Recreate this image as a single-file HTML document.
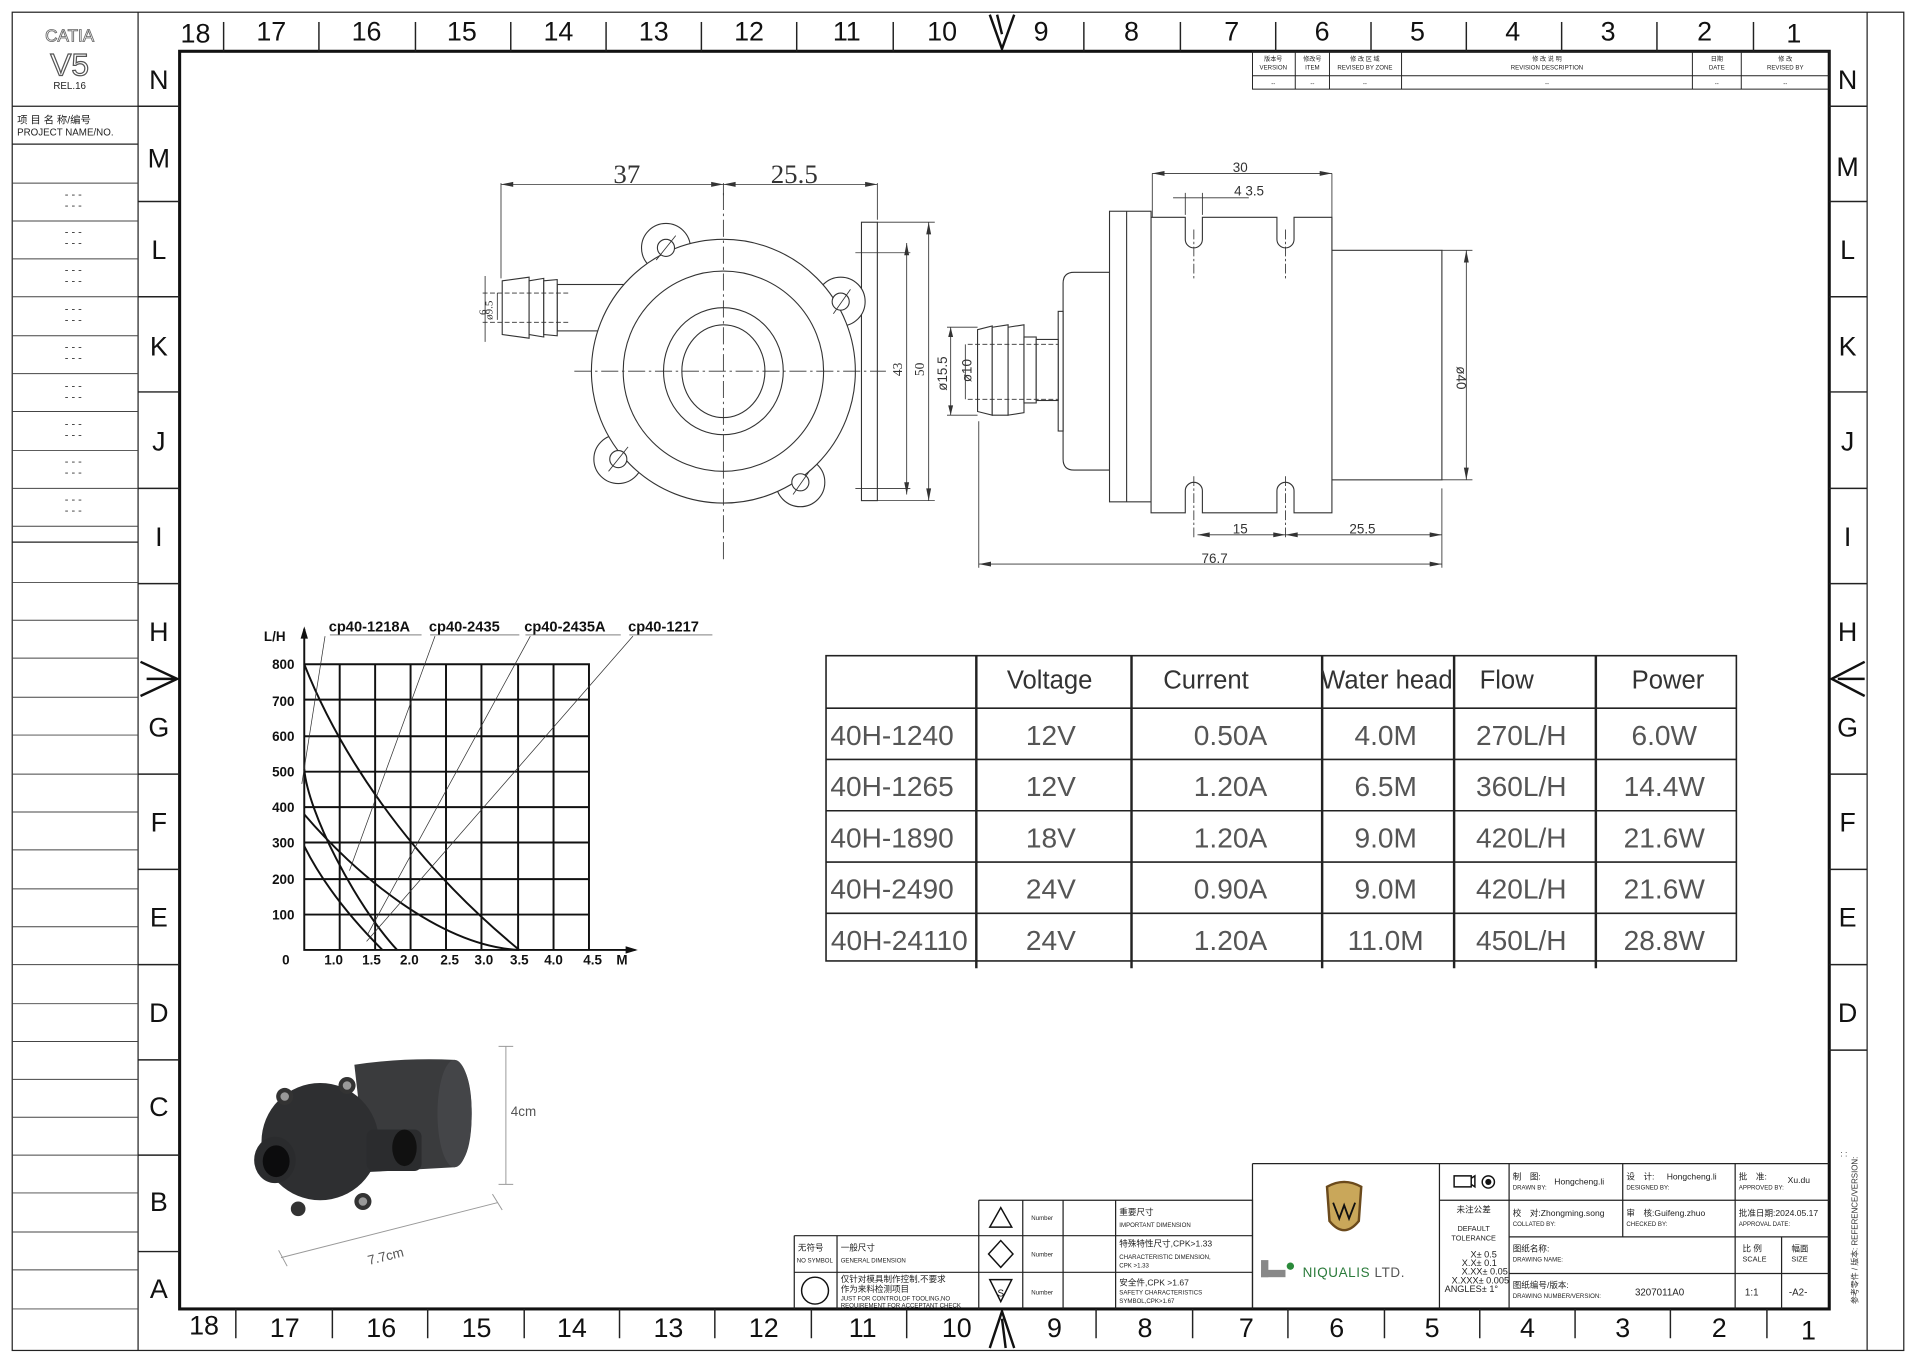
<!DOCTYPE html>
<html><head><meta charset="utf-8"><style>
html,body{margin:0;padding:0;background:#fff;overflow:hidden}
svg{display:block}
text{font-family:"Liberation Sans","Noto Sans CJK SC",sans-serif}
.z{font-size:22px;text-anchor:middle;fill:#111}
.s{font-size:5px;fill:#222}
.t{font-size:7px;fill:#222}
.d{font-family:"Liberation Serif",serif;fill:#333}
</style></head><body>
<svg width="1916" height="1359" viewBox="0 0 1568 1113" preserveAspectRatio="none" xmlns="http://www.w3.org/2000/svg">
<rect width="1568" height="1113" fill="#fff"/>
<g fill="none" stroke="#222" stroke-width="1">
<rect x="10" y="10" width="1548" height="1096"/>
<line x1="113" y1="10" x2="113" y2="1106"/>
<line x1="1528" y1="10" x2="1528" y2="1106"/>
<line x1="10" y1="87" x2="113" y2="87"/>
<line x1="10" y1="118" x2="113" y2="118"/>
<line x1="10" y1="444" x2="113" y2="444"/>
</g>
<rect x="147" y="42" width="1350" height="1030" fill="none" stroke="#111" stroke-width="2.5"/>
<g stroke="#444" stroke-width="0.8">
<line x1="10" y1="150" x2="113" y2="150"/><line x1="10" y1="181" x2="113" y2="181"/><line x1="10" y1="212" x2="113" y2="212"/><line x1="10" y1="243" x2="113" y2="243"/><line x1="10" y1="275" x2="113" y2="275"/><line x1="10" y1="306" x2="113" y2="306"/><line x1="10" y1="337" x2="113" y2="337"/><line x1="10" y1="369" x2="113" y2="369"/><line x1="10" y1="400" x2="113" y2="400"/><line x1="10" y1="431" x2="113" y2="431"/><line x1="10" y1="477" x2="113" y2="477"/><line x1="10" y1="508" x2="113" y2="508"/><line x1="10" y1="539" x2="113" y2="539"/><line x1="10" y1="571" x2="113" y2="571"/><line x1="10" y1="602" x2="113" y2="602"/><line x1="10" y1="634" x2="113" y2="634"/><line x1="10" y1="665" x2="113" y2="665"/><line x1="10" y1="696" x2="113" y2="696"/><line x1="10" y1="728" x2="113" y2="728"/><line x1="10" y1="759" x2="113" y2="759"/><line x1="10" y1="790" x2="113" y2="790"/><line x1="10" y1="822" x2="113" y2="822"/><line x1="10" y1="853" x2="113" y2="853"/><line x1="10" y1="884" x2="113" y2="884"/><line x1="10" y1="915" x2="113" y2="915"/><line x1="10" y1="946" x2="113" y2="946"/><line x1="10" y1="977" x2="113" y2="977"/><line x1="10" y1="1009" x2="113" y2="1009"/><line x1="10" y1="1040" x2="113" y2="1040"/><line x1="10" y1="1072" x2="113" y2="1072"/>
</g>
<text x="57" y="34" font-size="14" text-anchor="middle" fill="#fff" stroke="#666" stroke-width="0.7">CATIA</text>
<text x="57" y="62" font-size="26" text-anchor="middle" fill="#fff" stroke="#555" stroke-width="1">V5</text>
<text x="57" y="73" font-size="8" text-anchor="middle" fill="#222">REL.16</text>
<text x="14" y="101" font-size="8.5" fill="#222">项 目 名 称/编号</text>
<text x="14" y="111" font-size="8" fill="#222" font-family="Liberation Mono">PROJECT NAME/NO.</text>
<g font-size="9" text-anchor="middle" fill="#333">
<text x="60" y="162">- - -</text><text x="60" y="171">- - -</text>
<text x="60" y="193">- - -</text><text x="60" y="202">- - -</text>
<text x="60" y="224">- - -</text><text x="60" y="233">- - -</text>
<text x="60" y="256">- - -</text><text x="60" y="265">- - -</text>
<text x="60" y="287">- - -</text><text x="60" y="296">- - -</text>
<text x="60" y="319">- - -</text><text x="60" y="328">- - -</text>
<text x="60" y="350">- - -</text><text x="60" y="359">- - -</text>
<text x="60" y="381">- - -</text><text x="60" y="390">- - -</text>
<text x="60" y="412">- - -</text><text x="60" y="421">- - -</text>
</g>
<g class="z">
<text x="130" y="73" class="z">N</text><text x="130" y="137" class="z">M</text><text x="130" y="212" class="z">L</text><text x="130" y="291" class="z">K</text><text x="130" y="369" class="z">J</text><text x="130" y="447" class="z">I</text><text x="130" y="525" class="z">H</text><text x="130" y="603" class="z">G</text><text x="130" y="681" class="z">F</text><text x="130" y="759" class="z">E</text><text x="130" y="837" class="z">D</text><text x="130" y="914" class="z">C</text><text x="130" y="992" class="z">B</text><text x="130" y="1063" class="z">A</text>
<text x="1512" y="73" class="z">N</text><text x="1512" y="144" class="z">M</text><text x="1512" y="212" class="z">L</text><text x="1512" y="291" class="z">K</text><text x="1512" y="369" class="z">J</text><text x="1512" y="447" class="z">I</text><text x="1512" y="525" class="z">H</text><text x="1512" y="603" class="z">G</text><text x="1512" y="681" class="z">F</text><text x="1512" y="759" class="z">E</text><text x="1512" y="837" class="z">D</text>
<text x="160" y="35" class="z">18</text><text x="222" y="33" class="z">17</text><text x="300" y="33" class="z">16</text><text x="378" y="33" class="z">15</text><text x="457" y="33" class="z">14</text><text x="535" y="33" class="z">13</text><text x="613" y="33" class="z">12</text><text x="693" y="33" class="z">11</text><text x="771" y="33" class="z">10</text><text x="852" y="33" class="z">9</text><text x="926" y="33" class="z">8</text><text x="1008" y="33" class="z">7</text><text x="1082" y="33" class="z">6</text><text x="1160" y="33" class="z">5</text><text x="1238" y="33" class="z">4</text><text x="1316" y="33" class="z">3</text><text x="1395" y="33" class="z">2</text><text x="1468" y="35" class="z">1</text>
<text x="167" y="1093" class="z">18</text><text x="233" y="1095" class="z">17</text><text x="312" y="1095" class="z">16</text><text x="390" y="1095" class="z">15</text><text x="468" y="1095" class="z">14</text><text x="547" y="1095" class="z">13</text><text x="625" y="1095" class="z">12</text><text x="706" y="1095" class="z">11</text><text x="783" y="1095" class="z">10</text><text x="863" y="1095" class="z">9</text><text x="937" y="1095" class="z">8</text><text x="1020" y="1095" class="z">7</text><text x="1094" y="1095" class="z">6</text><text x="1172" y="1095" class="z">5</text><text x="1250" y="1095" class="z">4</text><text x="1328" y="1095" class="z">3</text><text x="1407" y="1095" class="z">2</text><text x="1480" y="1097" class="z">1</text>
</g>
<g stroke="#222" stroke-width="1.2">
<line x1="113" y1="87" x2="147" y2="87"/><line x1="113" y1="165" x2="147" y2="165"/><line x1="113" y1="243" x2="147" y2="243"/><line x1="113" y1="321" x2="147" y2="321"/><line x1="113" y1="400" x2="147" y2="400"/><line x1="113" y1="478" x2="147" y2="478"/><line x1="113" y1="634" x2="147" y2="634"/><line x1="113" y1="712" x2="147" y2="712"/><line x1="113" y1="790" x2="147" y2="790"/><line x1="113" y1="868" x2="147" y2="868"/><line x1="113" y1="946" x2="147" y2="946"/><line x1="113" y1="1025" x2="147" y2="1025"/>
<line x1="1497" y1="87" x2="1528" y2="87"/><line x1="1497" y1="165" x2="1528" y2="165"/><line x1="1497" y1="243" x2="1528" y2="243"/><line x1="1497" y1="321" x2="1528" y2="321"/><line x1="1497" y1="400" x2="1528" y2="400"/><line x1="1497" y1="478" x2="1528" y2="478"/><line x1="1497" y1="634" x2="1528" y2="634"/><line x1="1497" y1="712" x2="1528" y2="712"/><line x1="1497" y1="790" x2="1528" y2="790"/><line x1="1497" y1="860" x2="1528" y2="860"/>
<line x1="183" y1="18" x2="183" y2="42"/><line x1="261" y1="18" x2="261" y2="42"/><line x1="340" y1="18" x2="340" y2="42"/><line x1="418" y1="18" x2="418" y2="42"/><line x1="496" y1="18" x2="496" y2="42"/><line x1="574" y1="18" x2="574" y2="42"/><line x1="652" y1="18" x2="652" y2="42"/><line x1="731" y1="18" x2="731" y2="42"/><line x1="887" y1="18" x2="887" y2="42"/><line x1="966" y1="18" x2="966" y2="42"/><line x1="1044" y1="18" x2="1044" y2="42"/><line x1="1122" y1="18" x2="1122" y2="42"/><line x1="1200" y1="18" x2="1200" y2="42"/><line x1="1278" y1="18" x2="1278" y2="42"/><line x1="1356" y1="18" x2="1356" y2="42"/><line x1="1435" y1="18" x2="1435" y2="42"/>
<line x1="193" y1="1072" x2="193" y2="1096"/><line x1="272" y1="1072" x2="272" y2="1096"/><line x1="350" y1="1072" x2="350" y2="1096"/><line x1="429" y1="1072" x2="429" y2="1096"/><line x1="507" y1="1072" x2="507" y2="1096"/><line x1="585" y1="1072" x2="585" y2="1096"/><line x1="664" y1="1072" x2="664" y2="1096"/><line x1="742" y1="1072" x2="742" y2="1096"/><line x1="897" y1="1072" x2="897" y2="1096"/><line x1="976" y1="1072" x2="976" y2="1096"/><line x1="1054" y1="1072" x2="1054" y2="1096"/><line x1="1133" y1="1072" x2="1133" y2="1096"/><line x1="1211" y1="1072" x2="1211" y2="1096"/><line x1="1289" y1="1072" x2="1289" y2="1096"/><line x1="1367" y1="1072" x2="1367" y2="1096"/><line x1="1446" y1="1072" x2="1446" y2="1096"/>
</g>
<g fill="none" stroke="#111" stroke-width="2">
<path d="M810 12 L820 40 L830 12 M816 12 L820 28"/>
<path d="M810 1104 L820 1074 L830 1104 M820 1080 L823 1104"/>
<path d="M115 542 L145 556 L115 570 M120 556 L145 556"/>
<path d="M1526 542 L1499 556 L1526 570 M1504 556 L1526 556"/>
</g>
<g fill="none" stroke="#222" stroke-width="0.8">
<rect x="1025" y="42" width="472" height="31"/>
<line x1="1025" y1="62" x2="1497" y2="62"/>
<line x1="1060" y1="42" x2="1060" y2="73"/><line x1="1088" y1="42" x2="1088" y2="73"/><line x1="1147" y1="42" x2="1147" y2="73"/><line x1="1385" y1="42" x2="1385" y2="73"/><line x1="1425" y1="42" x2="1425" y2="73"/>
</g>
<g class="s" text-anchor="middle">
<text x="1042" y="50">版本号</text><text x="1042" y="57">VERSION</text>
<text x="1074" y="50">修改号</text><text x="1074" y="57">ITEM</text>
<text x="1117" y="50">修 改 区 域</text><text x="1117" y="57">REVISED BY ZONE</text>
<text x="1266" y="50">修 改 说 明</text><text x="1266" y="57">REVISION DESCRIPTION</text>
<text x="1405" y="50">日期</text><text x="1405" y="57">DATE</text>
<text x="1461" y="50">修 改</text><text x="1461" y="57">REVISED BY</text>
<text x="1042" y="70">--</text><text x="1074" y="70">--</text><text x="1117" y="70">--</text><text x="1266" y="70">--</text><text x="1405" y="70">--</text><text x="1461" y="70">--</text>
</g>

<g fill="#fff" stroke="#333" stroke-width="0.9">
<rect x="705" y="182" width="13" height="228"/>
<circle cx="545" cy="203" r="20"/>
<circle cx="688" cy="247" r="20"/>
<circle cx="506" cy="376" r="20"/>
<circle cx="655" cy="395" r="20"/>
<rect x="456" y="233" width="60" height="38"/>
<path d="M411 230 L433 227 L433 277 L411 274 Z"/>
<path d="M433 230 L445 228 L445 276 L433 274 Z"/>
<path d="M445 230 L456 229 L456 275 L445 274 Z"/>
<circle cx="592" cy="304" r="108"/>
<circle cx="592" cy="304" r="82"/>
<ellipse cx="592" cy="304" rx="49" ry="52"/>
<ellipse cx="592" cy="304" rx="34" ry="38"/>
<circle cx="545" cy="203" r="7"/><circle cx="688" cy="247" r="7"/><circle cx="506" cy="376" r="7"/><circle cx="655" cy="395" r="7"/>
</g>
<g stroke="#333" stroke-width="0.7" fill="none">
<path d="M537 213 L553 193 M682 257 L696 237 M498 386 L514 366 M649 405 L663 385"/>
<path d="M592 158 V460 M470 304 H725" stroke-dasharray="14 3 2 3"/>
<path d="M395 240 H465 M395 264 H465" stroke-dasharray="4 2"/>
<path d="M410 150 V228 M718 150 V180 M592 150 V160"/>
<path d="M410 151 H592 M592 151 H718"/>
<path d="M397 226 V280 M407 240 V262"/>
<path d="M718 182 H765 M718 410 H765 M700 207 H745 M700 400 H745"/>
<path d="M760 182 V410 M742 199 V405"/>
</g>
<g fill="#333">
<path d="M410 151 l10 -2 v4z M592 151 l-10 -2 v4z M592 151 l10 -2 v4z M718 151 l-10 -2 v4z"/>
<path d="M760 182 l-2 10 h4z M760 410 l-2 -10 h4z M742 199 l-2 10 h4z M742 405 l-2 -10 h4z"/>
</g>
<text x="513" y="150" font-size="22" class="d" text-anchor="middle">37</text>
<text x="650" y="150" font-size="22" class="d" text-anchor="middle">25.5</text>
<text class="d" font-size="9" transform="translate(403,262) rotate(-90)">ø9.5</text>
<text class="d" font-size="9" transform="translate(398,258) rotate(-90)">6</text>
<text class="d" font-size="11" transform="translate(738,308) rotate(-90)">43</text>
<text class="d" font-size="11" transform="translate(756,308) rotate(-90)">50</text>

<g fill="#fff" stroke="#333" stroke-width="0.9">
<rect x="1090" y="205" width="90" height="188"/>
<path d="M870 232 Q870 223 879 223 H908 V385 H879 Q870 385 870 376 Z"/>
<rect x="866" y="255" width="4" height="98"/>
<rect x="908" y="173" width="34" height="238"/>
<line x1="922" y1="173" x2="922" y2="411"/>
<path d="M942 178 H970 V196 A7 7 0 0 0 984 196 V178 H1045 V196 A7 7 0 0 0 1059 196 V178 H1090 V420 H1059 V402 A7 7 0 0 0 1045 402 V420 H984 V402 A7 7 0 0 0 970 402 V420 H942 Z"/>
<path d="M800 270 L812 267 L812 295 L812 340 L800 337 Z"/>
<path d="M812 268 L825 266 L825 340 L812 340 Z"/>
<path d="M825 268 L838 266 L838 338 L825 340 Z"/>
<rect x="838" y="276" width="10" height="54"/>
<rect x="848" y="278" width="18" height="50"/>
</g>
<g stroke="#333" stroke-width="0.7" fill="none">
<path d="M977 188 V230 M1052 188 V230 M977 390 V440 M1052 390 V440" stroke-dasharray="8 2 2 2"/>
<path d="M792 282 H866 M792 327 H866" stroke-dasharray="4 2"/>
<path d="M943 142 V178 M1090 142 V205 M943 142 H1090"/>
<path d="M960 162 H1022 M970 158 V176 M984 158 V176"/>
<path d="M1180 205 H1205 M1180 393 H1205 M1200 205 V393"/>
<path d="M775 268 H800 M775 340 H800 M778 268 V340 M790 282 V327"/>
<path d="M801 345 V465 M1180 400 V465 M801 462 H1180 M980 438 H1180"/>
</g>
<g fill="#333">
<path d="M943 142 l10 -2 v4z M1090 142 l-10 -2 v4z M1200 205 l-2 10 h4z M1200 393 l-2 -10 h4z M801 462 l10 -2 v4z M1180 462 l-10 -2 v4z M980 438 l10 -2 v4z M1052 438 l-10 -2 v4z M1052 438 l10 -2 v4z M1180 438 l-10 -2 v4z M778 268 l-2 8 h4z M778 340 l-2 -8 h4z"/>
</g>
<g class="d" font-size="11">
<text x="1015" y="141" text-anchor="middle">30</text>
<text x="1010" y="160">4 3.5</text>
<text x="1015" y="437" text-anchor="middle">15</text>
<text x="1115" y="437" text-anchor="middle">25.5</text>
<text x="994" y="461" text-anchor="middle">76.7</text>
<text transform="translate(1192,300) rotate(90)">ø40</text>
<text transform="translate(775,320) rotate(-90)">ø15.5</text>
<text transform="translate(795,313) rotate(-90)">ø10</text>
</g>

<g stroke="#111" stroke-width="1.6" fill="none">
<path d="M249 544 H482 V778 M249 573 H482 M249 603 H482 M249 632 H482 M249 661 H482 M249 690 H482 M249 720 H482 M249 749 H482"/>
<path d="M278 544 V778 M307 544 V778 M336 544 V778 M365 544 V778 M394 544 V778 M424 544 V778 M453 544 V778"/>
<path d="M249 515 V778 H520"/>
<path d="M249 544 C275 610 330 700 425 778"/>
<path d="M249 630 C252 665 290 740 325 778"/>
<path d="M249 667 C290 715 360 775 425 778"/>
<path d="M249 693 C265 725 290 755 313 778"/>
</g>
<path d="M249 513 l-3 10 h6z M522 778 l-10 -3 v6z" fill="#111"/>
<g stroke="#333" stroke-width="0.6" fill="none">
<path d="M270 520 H345 M352 520 H425 M430 520 H508 M515 520 H583"/>
<path d="M266 521 L247 642 M356 521 L286 713 M434 521 L301 765 M518 521 L300 771"/>
</g>
<g font-family="DejaVu Sans Mono" font-weight="bold" font-size="12" fill="#111">
<text x="269" y="517">cp40-1218A</text><text x="351" y="517">cp40-2435</text><text x="429" y="517">cp40-2435A</text><text x="514" y="517">cp40-1217</text>
<text x="216" y="525" font-size="11">L/H</text>
</g>
<g font-family="Liberation Sans" font-weight="bold" font-size="11" fill="#111" text-anchor="end">
<text x="241" y="548">800</text><text x="241" y="578">700</text><text x="241" y="607">600</text><text x="241" y="636">500</text><text x="241" y="665">400</text><text x="241" y="694">300</text><text x="241" y="724">200</text><text x="241" y="753">100</text>
</g>
<g font-family="Liberation Sans" font-weight="bold" font-size="11" fill="#111" text-anchor="middle">
<text x="234" y="790">0</text><text x="273" y="790">1.0</text><text x="304" y="790">1.5</text><text x="335" y="790">2.0</text><text x="368" y="790">2.5</text><text x="396" y="790">3.0</text><text x="425" y="790">3.5</text><text x="453" y="790">4.0</text><text x="485" y="790">4.5</text><text x="509" y="790">M</text>
</g>

<g stroke="#222" stroke-width="1.3" fill="none">
<rect x="676" y="537" width="745" height="250"/>
<path d="M676 580 H1421 M676 622 H1421 M676 664 H1421 M676 706 H1421 M676 748 H1421"/>
<path d="M799 537 V793 M926 537 V793 M1082 537 V793 M1190 537 V793 M1306 537 V793" stroke-width="2"/>
</g>
<g font-size="21" fill="#333" text-anchor="middle">
<text x="859" y="564">Voltage</text><text x="987" y="564">Current</text><text x="1135" y="564">Water head</text><text x="1233" y="564">Flow</text><text x="1365" y="564">Power</text>
</g>
<g font-size="23" fill="#555" text-anchor="middle">
<text x="730" y="610">40H-1240</text><text x="860" y="610">12V</text><text x="1007" y="610">0.50A</text><text x="1134" y="610">4.0M</text><text x="1245" y="610">270L/H</text><text x="1362" y="610">6.0W</text>
<text x="730" y="652">40H-1265</text><text x="860" y="652">12V</text><text x="1007" y="652">1.20A</text><text x="1134" y="652">6.5M</text><text x="1245" y="652">360L/H</text><text x="1362" y="652">14.4W</text>
<text x="730" y="694">40H-1890</text><text x="860" y="694">18V</text><text x="1007" y="694">1.20A</text><text x="1134" y="694">9.0M</text><text x="1245" y="694">420L/H</text><text x="1362" y="694">21.6W</text>
<text x="730" y="736">40H-2490</text><text x="860" y="736">24V</text><text x="1007" y="736">0.90A</text><text x="1134" y="736">9.0M</text><text x="1245" y="736">420L/H</text><text x="1362" y="736">21.6W</text>
<text x="736" y="778">40H-24110</text><text x="860" y="778">24V</text><text x="1007" y="778">1.20A</text><text x="1134" y="778">11.0M</text><text x="1245" y="778">450L/H</text><text x="1362" y="778">28.8W</text>
</g>

<g>
<path d="M290 872 Q330 866 372 868 Q386 875 386 912 Q386 950 372 956 L300 960 Z" fill="#3a3b3d"/>
<ellipse cx="372" cy="912" rx="14" ry="44" fill="#444548"/>
<circle cx="262" cy="935" r="48" fill="#2e2f31"/>
<rect x="300" y="925" width="45" height="34" rx="6" fill="#2b2c2e"/>
<ellipse cx="331" cy="940" rx="10" ry="15" fill="#111"/>
<ellipse cx="225" cy="950" rx="17" ry="19" fill="#2a2b2d"/>
<ellipse cx="226" cy="951" rx="11" ry="13" fill="#0c0c0d"/>
<circle cx="233" cy="898" r="7" fill="#333"/><circle cx="233" cy="898" r="3.5" fill="#999"/>
<circle cx="284" cy="889" r="7" fill="#333"/><circle cx="284" cy="889" r="3.5" fill="#999"/>
<circle cx="297" cy="984" r="7" fill="#333"/><circle cx="297" cy="984" r="3.5" fill="#999"/>
<circle cx="244" cy="990" r="6" fill="#333"/>
</g>
<g stroke="#999" stroke-width="0.8" fill="none">
<path d="M408 857 H420 M414 857 V970 M408 970 H420"/>
<path d="M230 1030 L407 985 M228 1024 L235 1037 M403 978 L411 991"/>
</g>
<text x="418" y="914" font-size="11" fill="#555">4cm</text>
<text transform="translate(302,1036) rotate(-14)" font-size="11" fill="#555">7.7cm</text>

<g fill="none" stroke="#222" stroke-width="1">
<path d="M801 983 H1025 V1072 M801 983 V1072 M650 1012 H1025 M650 1042 H1025 M650 1012 V1072 M685 1012 V1072 M837 983 V1072 M870 983 V1072 M913 983 V1072"/>
<path d="M1025 953 H1497 M1025 953 V1072 M1178 953 V1072 M1235 953 V1072 M1178 983 H1497 M1235 1013 H1497 M1235 1043 H1497 M1328 953 V1013 M1420 953 V1072 M1458 1013 V1072"/>
</g>
<g fill="none" stroke="#111" stroke-width="1.2">
<path d="M819 989 L810 1005 H828 Z"/>
<path d="M819 1016 L829 1027 L819 1038 L809 1027 Z"/>
<path d="M810 1048 H828 L819 1066 Z"/>
<circle cx="667" cy="1057" r="11"/>
<path d="M1190 963 H1204 V972 H1190 Z M1204 965 L1207 963 V972 L1204 970"/>
<circle cx="1218" cy="968" r="5"/>
</g>
<circle cx="1218" cy="968" r="2.5" fill="#111"/>
<text x="819" y="1062" font-size="8" text-anchor="middle" fill="#111">S</text>
<g class="t">
<text x="844" y="999" font-size="5">Number</text><text x="844" y="1029" font-size="5">Number</text><text x="844" y="1060" font-size="5">Number</text>
<text x="916" y="995">重要尺寸</text><text x="916" y="1005" font-size="5">IMPORTANT DIMENSION</text>
<text x="916" y="1021">特殊特性尺寸,CPK&gt;1.33</text><text x="916" y="1031" font-size="5">CHARACTERISTIC DIMENSION,</text><text x="916" y="1038" font-size="5">CPK &gt;1.33</text>
<text x="916" y="1053">安全件,CPK &gt;1.67</text><text x="916" y="1060" font-size="5">SAFETY CHARACTERISTICS</text><text x="916" y="1067" font-size="5">SYMBOL,CPK&gt;1.67</text>
<text x="653" y="1024">无符号</text><text x="652" y="1034" font-size="5">NO SYMBOL</text>
<text x="688" y="1024">一般尺寸</text><text x="688" y="1034" font-size="5">GENERAL DIMENSION</text>
<text x="688" y="1050">仅针对模具制作控制,不要求</text><text x="688" y="1058">作为来料检测项目</text><text x="688" y="1065" font-size="5">JUST FOR CONTROLOF TOOLING,NO</text><text x="688" y="1071" font-size="5">REQUIREMENT FOR ACCEPTANT CHECK</text>
<text x="1206" y="993" text-anchor="middle">未注公差</text>
<text x="1206" y="1008" text-anchor="middle" font-size="6">DEFAULT</text><text x="1206" y="1016" text-anchor="middle" font-size="6">TOLERANCE</text>
<text x="1225" y="1030" text-anchor="end" font-size="7.5">X± 0.5</text><text x="1225" y="1037" text-anchor="end" font-size="7.5">X.X± 0.1</text><text x="1234" y="1044" text-anchor="end" font-size="7.5">X.XX± 0.05</text><text x="1235" y="1051" text-anchor="end" font-size="7.5">X.XXX± 0.005</text><text x="1226" y="1058" text-anchor="end" font-size="7.5">ANGLES± 1°</text>
<text x="1238" y="966">制　图:</text><text x="1272" y="970">Hongcheng.li</text><text x="1238" y="974" font-size="5">DRAWN BY:</text>
<text x="1331" y="966">设　计:</text><text x="1364" y="966">Hongcheng.li</text><text x="1331" y="974" font-size="5">DESIGNED BY:</text>
<text x="1423" y="966">批　准:</text><text x="1463" y="969">Xu.du</text><text x="1423" y="974" font-size="5">APPROVED BY:</text>
<text x="1238" y="996">校　对:Zhongming.song</text><text x="1238" y="1004" font-size="5">COLLATED BY:</text>
<text x="1331" y="996">审　核:Guifeng.zhuo</text><text x="1331" y="1004" font-size="5">CHECKED BY:</text>
<text x="1423" y="996">批准日期:2024.05.17</text><text x="1423" y="1004" font-size="5">APPROVAL DATE:</text>
<text x="1238" y="1025">图纸名称:</text><text x="1238" y="1033" font-size="5">DRAWING NAME:</text>
<text x="1426" y="1025">比 例</text><text x="1426" y="1033" font-size="6">SCALE</text>
<text x="1466" y="1025">幅面</text><text x="1466" y="1033" font-size="6">SIZE</text>
<text x="1238" y="1055">图纸编号/版本:</text><text x="1238" y="1063" font-size="5">DRAWING NUMBER/VERSION:</text>
<text x="1338" y="1061" font-size="8">3207011A0</text>
<text x="1428" y="1061" font-size="8">1:1</text>
<text x="1464" y="1061" font-size="8">-A2-</text>
</g>
<path d="M1086 972 Q1100 964 1114 972 L1112 1000 Q1100 1015 1088 1000 Z" fill="#c9a75a" stroke="#6b4a1c" stroke-width="2"/>
<path d="M1091 985 L1096 998 L1100 987 L1104 998 L1109 985" fill="none" stroke="#111" stroke-width="1.5"/>
<rect x="1032" y="1032" width="6" height="14" fill="#888"/><rect x="1032" y="1040" width="20" height="6" fill="#888"/><circle cx="1056" cy="1037" r="3" fill="#2a8a3a"/>
<text x="1066" y="1046" font-size="11" fill="#2a7a3a" letter-spacing="0.5">NIQUALIS <tspan fill="#555">LTD.</tspan></text>
<text transform="translate(1520,1068) rotate(-90)" font-size="6.5" fill="#333">参考零件 / 版本: REFERENCE/VERSION:</text>
<text x="1506" y="947" font-size="7" fill="#333">: :</text>
</svg>
</body></html>
